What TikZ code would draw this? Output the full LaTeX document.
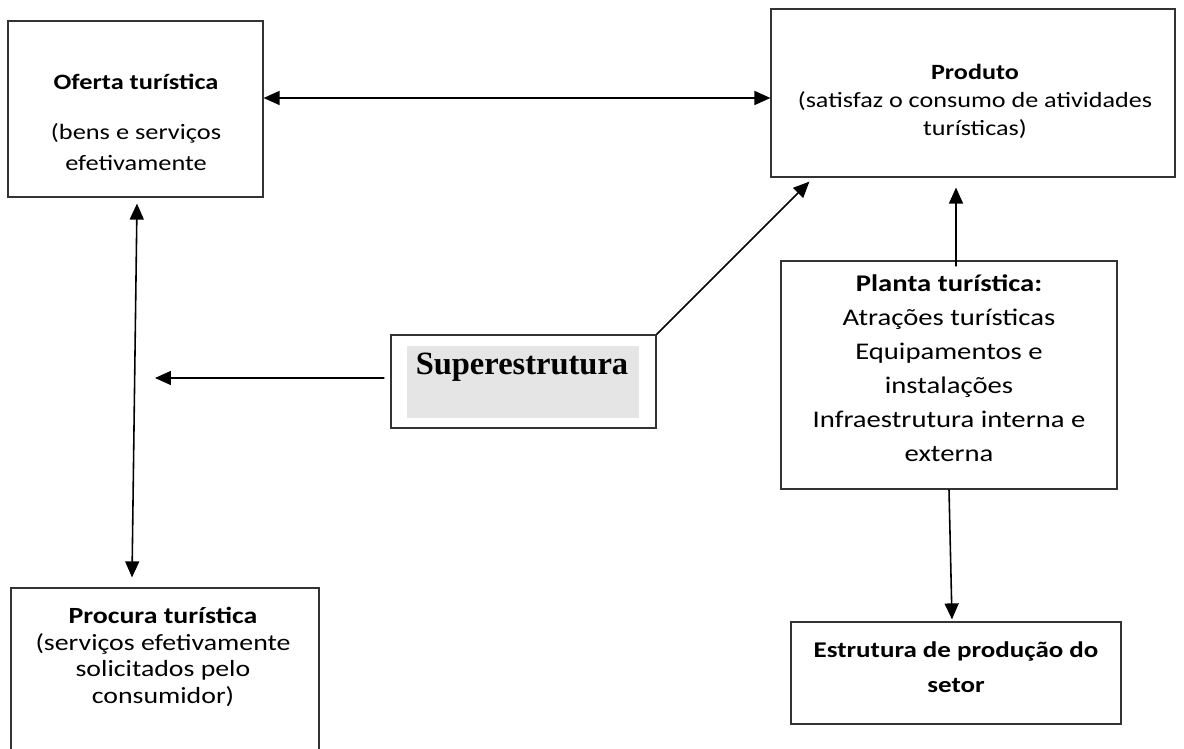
\documentclass[tikz,border=0pt]{standalone}
\usepackage{fontspec}
\setmainfont{Carlito}[FakeStretch=1.2]
\newfontfamily\timesfont{Liberation Serif}
\usepackage{tikz}
\usetikzlibrary{arrows.meta,positioning,calc}

\begin{document}
\begin{tikzpicture}[x=0.02cm, y=-0.02cm,
      caixa/.style={draw=black!80, line width=0.7pt, inner sep=0pt},
      texto/.style={align=center, inner sep=0pt},
      seta/.style={line width=0.9pt, -{Triangle[length=0.32cm, width=0.28cm]}},
      setadupla/.style={line width=0.9pt, {Triangle[length=0.32cm, width=0.28cm]}-{Triangle[length=0.32cm, width=0.28cm]}}]
    \useasboundingbox (0,0) rectangle (1184,749);
    % caixas
    \node[caixa, minimum width=5.1cm, minimum height=3.52cm] (oferta) at (135.5,109) {};
    \node[caixa, minimum width=8.08cm, minimum height=3.36cm] (produto) at (973,93) {};
    \node[caixa, minimum width=5.3cm, minimum height=1.86cm] (super) at (523.5,381.5) {};
    \node[fill=black!10, inner sep=0pt, minimum width=4.64cm, minimum height=1.44cm] (superfundo) at (523,382) {};
    \node[caixa, minimum width=6.72cm, minimum height=4.56cm] (planta) at (949,375) {};
    \node[caixa, minimum width=6.16cm, minimum height=3.44cm] (procura) at (165,674) {};
    \node[caixa, minimum width=6.6cm, minimum height=2.04cm] (estrutura) at (956,673) {};
    % textos
    \node[texto, font={\fontsize{12.5}{17.6}\selectfont}] (ofertatxt) at (136,122.5)
      {\textbf{Oferta turística}\\[10.7pt] (bens e serviços\\ efetivamente};
    \node[texto, font={\fontsize{12.4}{15.9}\selectfont}] (produtotxt) at (975,101)
      {\textbf{Produto}\\ (satisfaz o consumo de atividades\\ turísticas)};
    \node[texto, font={\timesfont\bfseries\fontsize{18.5}{22}\selectfont}] (supertxt) at (522,367) {Superestrutura};
    \node[texto, font={\fontsize{13.6}{19.3}\selectfont}] (plantatxt) at (949,368)
      {\textbf{Planta turística:}\\ Atrações turísticas\\ Equipamentos e\\ instalações\\ Infraestrutura interna e\\ externa};
    \node[texto, font={\fontsize{13.2}{15.1}\selectfont}] (procuratxt) at (163,657)
      {\textbf{Procura turística}\\ (serviços efetivamente\\ solicitados pelo\\ consumidor)};
    \node[texto, font={\bfseries\fontsize{12.8}{19.8}\selectfont}] (estruturatxt) at (956,667.5)
      {Estrutura de produção do\\ setor};
    % pontas livres
    \coordinate (ofertabaixo) at ([xshift=0.03cm, yshift=-0.12cm]oferta.south);
    \coordinate (procuracima) at ([xshift=-0.66cm, yshift=0.2cm]procura.north);
    \coordinate (esquerda) at (155,378);
    % ligacoes
    \draw[setadupla] ([yshift=0.22cm]oferta.east) -- ([yshift=-0.1cm]produto.west);
    \draw[setadupla] (ofertabaixo) -- (procuracima);
    \draw[seta] ([xshift=-0.12cm, yshift=0.07cm]super.west) -- (esquerda);
    \draw[seta] (super.north east) -- ([xshift=0.78cm, yshift=-0.08cm]produto.south west);
    \draw[seta] ([xshift=0.14cm, yshift=-0.12cm]planta.north) -- ([xshift=-0.34cm, yshift=-0.2cm]produto.south);
    \draw[seta] (planta.south) -- ([xshift=-0.08cm, yshift=0.04cm]estrutura.north);
\end{tikzpicture}
\end{document}
